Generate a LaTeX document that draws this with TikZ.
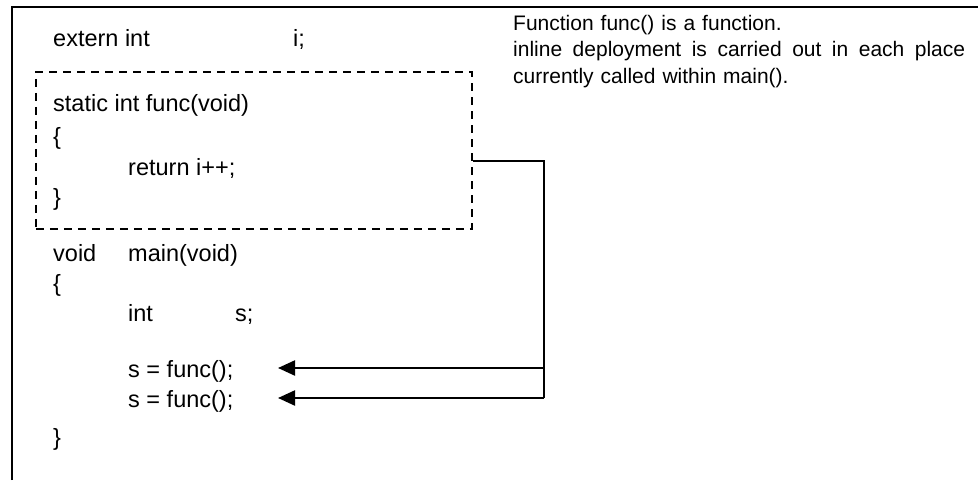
\documentclass[tikz,border=0pt]{standalone}
\usepackage{fontspec}
\setmainfont{Liberation Sans}
\usetikzlibrary{arrows.meta}

\begin{document}
\begin{tikzpicture}[x=1pt, y=-1pt, font=\fontsize{23.5}{27}\selectfont,
		code/.style={anchor=base west, inner sep=0pt},
		call/.style={-{Triangle[length=17pt, width=15pt]}, line width=2.2pt}]
		\useasboundingbox (0, 0) rectangle (978, 480);

		% Frame (cut off at the right and the bottom)
		\begin{scope}
			\coordinate (frame_sw) at (12, 480);
			\coordinate (frame_nw) at (12, 7);
			\coordinate (frame_ne) at (978, 7);
			\draw[line width=2.4pt] (frame_sw) -- (frame_nw) -- (frame_ne);
		\end{scope}

		% Declarations
		\begin{scope}
			\node (extern) at (53, 46) [code] {extern int};
			\node (ivar) at (293, 46) [code] {i;};
		\end{scope}

		% Inline function
		\begin{scope}
			\node (funcbox) at (35, 71) [draw, line width=1.6pt, dash pattern=on 8pt off 6pt, anchor=north west, minimum width=436pt, minimum height=157pt] {};
			\node (fhead) at (53, 111) [code] {static int func(void)};
			\node (fopen) at (53, 144) [code] {\{};
			\node (fret) at (128, 175) [code] {return i++;};
			\node (fclose) at (53, 205) [code] {\}};
		\end{scope}

		% main()
		\begin{scope}
			\node (mtype) at (53, 261) [code] {void};
			\node (mhead) at (128, 261) [code] {main(void)};
			\node (mopen) at (53, 291) [code] {\{};
			\node (stype) at (128, 321) [code] {int};
			\node (svar) at (235, 321) [code] {s;};
			\node (call_a) at (128, 377) [code] {s = func();};
			\node (call_b) at (128, 407) [code] {s = func();};
			\node (mclose) at (53, 445) [code] {\}};
		\end{scope}

		% Note
		\node (note) at (513, 15) [anchor=north west, text width=452pt, align=left, inner sep=0pt, font=\fontsize{21}{26.5}\selectfont] {Function func() is a function.\\ \makebox[452pt][s]{\spaceskip=.28em plus 1fil inline deployment is carried out in each place}\\ currently called within main().};

		% Inline expansion
		\begin{scope}
			\coordinate (joint) at (544, 161);
			\coordinate (tip_a) at (278, 368);
			\coordinate (tip_b) at (278, 398);
			\draw[line width=2.2pt] (funcbox.east |- joint) -- (joint) -- (joint |- tip_b);
			\draw[call] (joint |- tip_a) -- (tip_a);
			\draw[call] (joint |- tip_b) -- (tip_b);
		\end{scope}

	\end{tikzpicture}
\end{document}
